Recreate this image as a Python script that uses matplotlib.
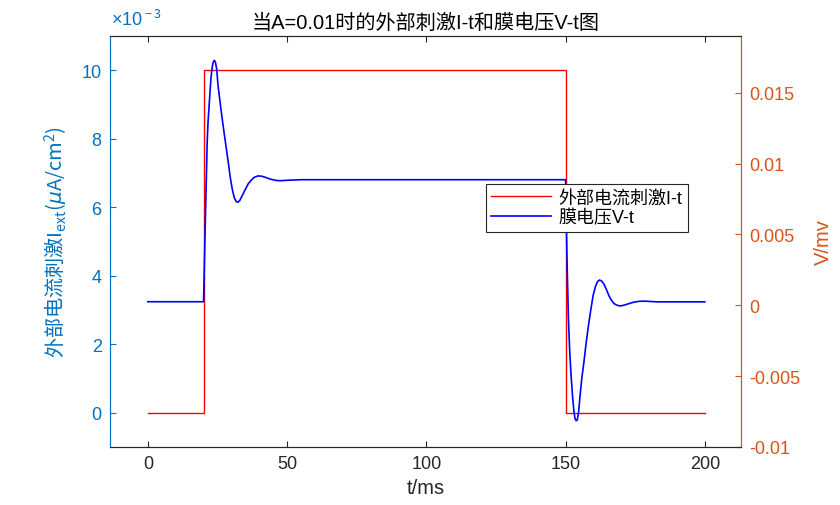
import matplotlib
matplotlib.use("Agg")
import matplotlib.pyplot as plt
from matplotlib.ticker import FuncFormatter, FixedLocator

plt.rcParams['font.family'] = ['Liberation Sans', 'Noto Sans CJK SC', 'DejaVu Sans']
plt.rcParams['mathtext.fontset'] = 'custom'
plt.rcParams['mathtext.rm'] = 'Noto Sans CJK SC'
plt.rcParams['mathtext.it'] = 'DejaVu Sans:italic'
plt.rcParams['axes.unicode_minus'] = False

# ---- data ----
t_current = [0, 20, 20, 150, 150, 200]
i_current = [0, 0, 0.01, 0.01, 0, 0]

t_volt = [0, 20.0, 20.3, 20.6, 21.0, 21.3, 21.6, 22.0, 22.4, 22.7, 23.1, 23.4, 23.8,
          24.2, 24.7, 25.2, 25.7, 26.4, 27.0, 28.0, 29.0, 29.6, 30.3, 31.0, 31.7,
          32.3, 33.0, 33.8, 34.8, 36.0, 37.0, 38.2, 39.6, 41.0, 42.0, 43.3, 44.4,
          46.0, 47.5, 50.0, 55.0, 150.0,
          150.3, 150.6, 151.0, 151.5, 152.0, 152.5, 153.0, 153.4, 153.8, 154.2,
          154.7, 155.1, 155.8, 156.6, 157.3, 158.1, 159.0, 159.9, 160.8, 161.5,
          162.2, 163.0, 163.8, 164.7, 165.6, 166.5, 167.4, 168.5, 169.8, 171.2,
          172.8, 174.5, 176.4, 178.8, 181.0, 183.6, 200.0]
v_volt = [0.00025, 0.00025, 0.0030, 0.0057, 0.0090, 0.0115, 0.0129, 0.0141, 0.0153,
          0.0161, 0.0168, 0.0171, 0.01728, 0.0172, 0.0167, 0.0155, 0.0147, 0.0136,
          0.0127, 0.0113, 0.0099, 0.0090, 0.0082, 0.0076, 0.00732, 0.00727, 0.0074,
          0.0077, 0.0081, 0.00856, 0.0088, 0.00903, 0.00913, 0.00910, 0.00904,
          0.00895, 0.00888, 0.00881, 0.00879, 0.00882, 0.00886, 0.00886,
          0.0055, 0.0025, -0.0008, -0.0033, -0.0050, -0.0064, -0.0075, -0.0080,
          -0.00814, -0.0081, -0.0075, -0.0066, -0.0052, -0.0040, -0.0028, -0.0016,
          -0.0004, 0.0007, 0.00137, 0.00168, 0.00178, 0.00170, 0.00149, 0.00110,
          0.00066, 0.00035, 0.00012, 0.0000, -0.00005, 0.00002, 0.00012, 0.00022,
          0.00028, 0.00029, 0.00026, 0.00024, 0.00024]

x_ticks = [0, 50, 100, 150, 200]
left_ticks = [0, 0.002, 0.004, 0.006, 0.008, 0.010]
right_ticks = [-0.01, -0.005, 0, 0.005, 0.01, 0.015]
right_labels = ['-0.01', '-0.005', '0', '0.005', '0.01', '0.015']

title = '当A=0.01时的外部刺激I-t和膜电压V-t图'
legend_labels = ['外部电流刺激I-t', '膜电压V-t']

C_LEFT = '#0072BD'
C_RIGHT = '#D95319'
C_AX = '#262626'

W, H = 840, 506
fig = plt.figure(figsize=(W / 100, H / 100), dpi=100)
ax = fig.add_axes([110 / W, 1 - 448 / H, (741 - 110) / W, (448 - 37) / H])
ax2 = ax.twinx()

l1, = ax.plot(t_current, i_current, color='#FF0000', lw=1.0)
l2, = ax2.plot(t_volt, v_volt, color='#0000FF', lw=1.2)

ax.set_xlim(-13.6, 213)
ax.set_ylim(-0.001, 0.011)
ax2.set_ylim(-0.01, 0.019)

ax.xaxis.set_major_locator(FixedLocator(x_ticks))
ax.yaxis.set_major_locator(FixedLocator(left_ticks))
ax.yaxis.set_major_formatter(FuncFormatter(lambda v, _: f"{v * 1e3:g}"))
ax2.yaxis.set_major_locator(FixedLocator(right_ticks))
ax2.set_yticklabels(right_labels)

for a in (ax, ax2):
    a.spines['top'].set_color(C_AX)
    a.spines['bottom'].set_color(C_AX)
    a.spines['left'].set_color(C_LEFT)
    a.spines['right'].set_color(C_RIGHT)
    for s in a.spines.values():
        s.set_linewidth(0.8)

TS = 13
ax.tick_params(axis='x', direction='in', length=4, top=True, colors=C_AX,
               labelsize=TS, pad=6)
ax.tick_params(axis='y', direction='in', length=4, colors=C_LEFT, labelsize=TS, pad=6)
ax2.tick_params(axis='y', direction='in', length=4, colors=C_RIGHT, labelsize=TS, pad=6)

LS = 14.5
ax.set_xlabel('t/ms', fontsize=LS, color=C_AX, labelpad=4)
ax.set_ylabel(r'外部电流刺激I$_{\rm ext}$($\mathit{\mu}$A/cm$^{\rm 2}$)', fontsize=LS,
              color=C_LEFT, family='Noto Sans CJK SC', labelpad=8)
ax2.set_ylabel('V/mv', fontsize=LS, color=C_RIGHT, labelpad=10)
ax.set_title(title, fontsize=LS, color='#000000', pad=6)

fig.text(111 / W, 1 - 20 / H, r'×10$^{\rm -3}$', color=C_LEFT, fontsize=TS,
         ha='left', va='center')

leg = ax2.legend([l1, l2], legend_labels, loc='upper left',
                 bbox_to_anchor=(486 / W, 1 - 185 / H), bbox_transform=fig.transFigure,
                 fontsize=13, frameon=True, fancybox=False, edgecolor=C_AX,
                 framealpha=1, borderpad=0.3, labelspacing=0.15, handlelength=3.3,
                 handletextpad=0.4, borderaxespad=0)
leg.get_frame().set_linewidth(0.8)

fig.savefig('out.png', dpi=100)
